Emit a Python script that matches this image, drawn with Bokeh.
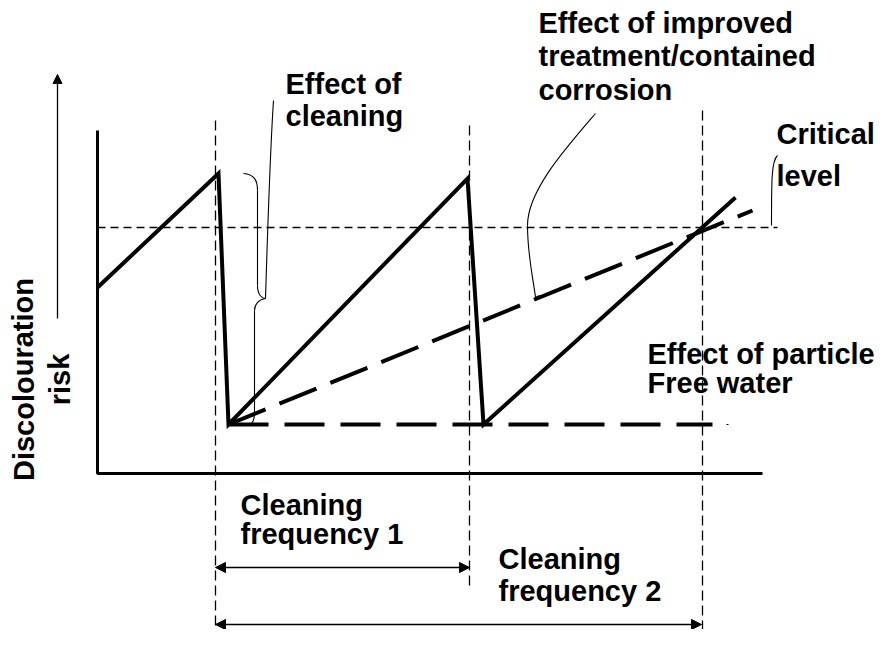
from bokeh.plotting import figure
from bokeh.models import Range1d, Arrow, NormalHead
from bokeh.core.properties import value
from bokeh.embed import file_html
from bokeh.resources import INLINE

# ---- schematic data (time vs discolouration risk, drawing units) ----
sawtooth_x = [97, 218, 228, 467, 483, 735]
sawtooth_y = [287, 173, 424, 178, 424, 197]
improved_x = [228, 752]
improved_y = [424, 210]
particle_free_x = [228, 712]
particle_free_y = [424, 424]
critical_level = 227
critical_x = [97, 777]
cleaning_times = [215, 469, 702]
cleaning_top = [120, 125, 110]
cleaning_bottom = [640, 588, 640]
axis_x = [97, 97, 762]
axis_y = [130, 473, 473]
freq1 = [215, 469]
freq2 = [215, 701]

labels = ["Effect of", "cleaning", "Effect of improved", "treatment/contained", "corrosion",
          "Critical", "level", "Effect of particle", "Free water",
          "Cleaning", "frequency 1", "Cleaning", "frequency 2"]
labels_x = [285, 285, 538, 538, 538, 776, 776, 647, 647, 240, 240, 498, 498]
labels_y = [83, 115, 22, 55, 89, 133, 175, 353, 382, 504, 533, 558, 590]

FONT = value("Liberation Sans")
FS = "29px"

p = figure(width=874, height=629, x_range=Range1d(0, 874), y_range=Range1d(629, 0),
           min_border=0, x_axis_location=None, y_axis_location=None,
           toolbar_location=None, output_backend="svg", outline_line_color=None)
p.grid.visible = False

# axes
p.line(axis_x, axis_y, line_color="black", line_width=3)

# vertical cleaning-time guides
for x, t, b in zip(cleaning_times, cleaning_top, cleaning_bottom):
    p.line([x, x], [t, b], line_color="black", line_width=1.3, line_dash="10 5")

# critical level
p.line(critical_x, [critical_level, critical_level], line_color="black",
       line_width=1.5, line_dash="8 5")

# sawtooth
p.line(sawtooth_x, sawtooth_y, line_color="black", line_width=4, line_join="miter")
# improved treatment
p.line(improved_x, improved_y, line_color="black", line_width=4, line_dash="40 15")
# particle free water
p.line(particle_free_x, particle_free_y, line_color="black", line_width=4, line_dash="40 16")
p.line([726, 728], [424, 424], line_color="black", line_width=1)

# y arrow
p.add_layout(Arrow(end=NormalHead(size=9, fill_color="black", line_color="black"),
                   x_start=57, y_start=318, x_end=57, y_end=74, line_width=1.3))

# frequency arrows
for rng, yy in ((freq1, 567), (freq2, 624)):
    p.add_layout(Arrow(start=NormalHead(size=10, fill_color="black", line_color="black"),
                       end=NormalHead(size=10, fill_color="black", line_color="black"),
                       x_start=rng[0], y_start=yy, x_end=rng[1], y_end=yy, line_width=1.3))

bz = dict(line_color="black", line_width=1.1)
# curly brace (cleaning effect)
p.bezier(x0=[243, 257, 254], y0=[173, 285, 412],
         x1=[257, 265, 248], y1=[190, 298, 425],
         cx0=[254, 257, 254], cy0=[174, 295, 420],
         cx1=[257, 262, 251], cy1=[180, 298, 424], **bz)
p.bezier(x0=[265], y0=[298], x1=[254], y1=[310], cx0=[258], cy0=[299], cx1=[254], cy1=[304], **bz)
p.line([257, 257], [190, 285], **bz)
p.line([254, 254], [310, 412], **bz)
# leader from brace to "Effect of cleaning"
p.bezier(x0=[265], y0=[298], x1=[273], y1=[100], cx0=[268], cy0=[200], cx1=[271], cy1=[130], **bz)
# leader to improved line
p.bezier(x0=[595, 527], y0=[113, 225], x1=[527, 535], y1=[225, 297],
         cx0=[565, 527], cy0=[148, 255], cx1=[527, 533], cy1=[190, 280], **bz)
p.line([535, 539], [297, 295], **bz)
# leader critical level
p.bezier(x0=[771], y0=[225], x1=[777], y1=[155], cx0=[771], cy0=[180], cx1=[771], cy1=[160], **bz)

# texts
p.text(x=labels_x, y=labels_y, text=labels, text_font=FONT, text_font_style="bold",
       text_font_size=FS, text_baseline="alphabetic", text_align="left", text_color="black")

# y label (rotated)
p.text(x=[23, 59], y=[379, 379], text=["Discolouration", "risk"], angle=1.5708,
       text_font=FONT, text_font_style="bold", text_font_size=FS,
       text_baseline="alphabetic", text_align="center", text_color="black")

open("out.html", "w").write(file_html(p, INLINE))
